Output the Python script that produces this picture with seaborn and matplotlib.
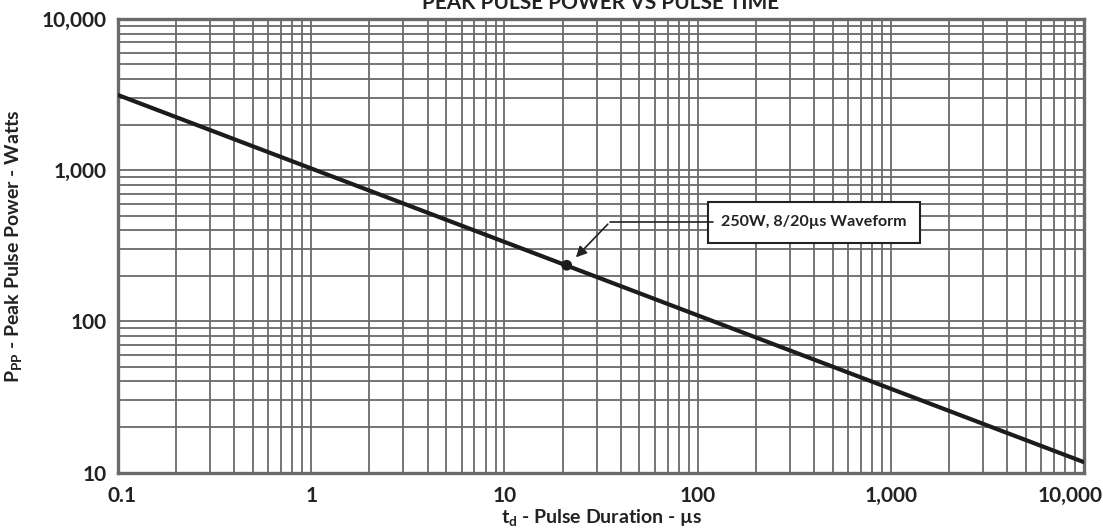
import numpy as np
import pandas as pd
import seaborn as sns
import matplotlib.pyplot as plt
import matplotlib.transforms as mtransforms

# values
pulse_time = [0.1, 10000]          # us
peak_power = [3140, 11.7]          # W
marker_time = [21]
marker_power = [235]
x_ticks = [0.1, 1, 10, 100, 1000, 10000]
x_labels = ['0.1', '1', '10', '100', '1,000', '10,000']
y_ticks = [10, 100, 1000, 10000]
y_labels = ['10', '100', '1,000', '10,000']
note = '250W, 8/20µs Waveform'

sns.set_style('white')
plt.rcParams['font.family'] = ['Lato', 'DejaVu Sans']
plt.rcParams['mathtext.fontset'] = 'custom'
plt.rcParams['mathtext.rm'] = 'Lato:bold'
plt.rcParams['mathtext.bf'] = 'Lato:bold'

grid_col = '#6a6a6a'
txt_col = '#222222'

fig = plt.figure(figsize=(11.03, 5.29), dpi=100)
ax = fig.add_axes([0.107, 0.1068, 0.8758, 0.8573])

data = pd.DataFrame({'t': pulse_time, 'p': peak_power})
sns.lineplot(data=data, x='t', y='p', ax=ax, color='#1c1c1c', lw=3.0, zorder=4)
sns.scatterplot(x=marker_time, y=marker_power, ax=ax, color='#1c1c1c', s=60,
                edgecolor='none', zorder=5)

ax.set_xscale('log')
ax.set_yscale('log')
ax.set_xlim(0.1, 10000)
ax.set_ylim(10, 10000)

ax.grid(True, which='both', color=grid_col, lw=1.3)
ax.set_axisbelow(True)
ax.tick_params(which='both', length=0)
ax.set_xticks(x_ticks, x_labels, fontsize=15, fontweight='bold')
ax.set_yticks(y_ticks, y_labels, fontsize=15, fontweight='bold')
ax.minorticks_on()
ax.xaxis.set_minor_formatter(plt.NullFormatter())
ax.yaxis.set_minor_formatter(plt.NullFormatter())
ax.tick_params(axis='x', pad=10, colors=txt_col)
ax.tick_params(axis='y', pad=8, colors=txt_col)

# nudge end labels like the original
lbls = ax.get_xticklabels()
lbls[-1].set_transform(lbls[-1].get_transform() +
                       mtransforms.ScaledTranslation(-0.14, 0, fig.dpi_scale_trans))
lbls[0].set_transform(lbls[0].get_transform() +
                      mtransforms.ScaledTranslation(0.04, 0, fig.dpi_scale_trans))

for s in ax.spines.values():
    s.set_color(grid_col)
    s.set_linewidth(2.4)

ax.set_xlabel(r't$_{\mathbf{d}}$ - Pulse Duration - µs', fontsize=14,
              fontweight='bold', color=txt_col, labelpad=1)
ax.set_ylabel(r'P$_{\mathbf{PP}}$ - Peak Pulse Power - Watts', fontsize=14,
              fontweight='bold', color=txt_col, labelpad=12)
ax.set_title('PEAK PULSE POWER VS PULSE TIME', fontsize=15, fontweight='bold',
             color=txt_col, pad=7)

# callout
ax.text(0.7205, 0.552, note, transform=ax.transAxes, ha='center', va='center',
        fontsize=11.5, fontweight='bold', color=txt_col, zorder=6,
        bbox=dict(boxstyle='square,pad=0.85', fc='white', ec=txt_col, lw=1.5))
ax.plot([0.616, 0.509], [0.552, 0.552], transform=ax.transAxes,
        color=txt_col, lw=1.2, zorder=6)
ax.annotate('', xy=(0.472, 0.47), xytext=(0.509, 0.552),
            xycoords='axes fraction', textcoords='axes fraction',
            arrowprops=dict(arrowstyle='-|>', color=txt_col, lw=1.2,
                            mutation_scale=16), zorder=6)

fig.savefig('out.png', dpi=100)
